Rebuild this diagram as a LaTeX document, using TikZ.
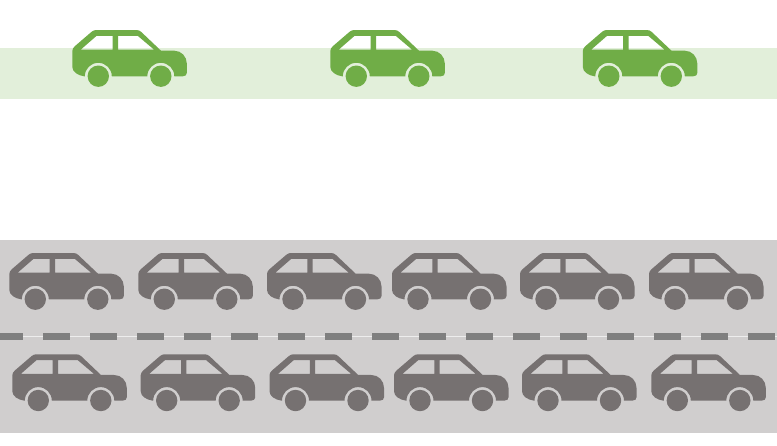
\documentclass[tikz,border=0pt]{standalone}
\definecolor{bandgreen}{HTML}{E2EFDA}
\definecolor{cargreen}{HTML}{70AD47}
\definecolor{bandgrey}{HTML}{D0CECE}
\definecolor{cargrey}{HTML}{767171}
\definecolor{dashgrey}{HTML}{7F7F7F}
\definecolor{linegrey}{HTML}{EDEDED}
\tikzset{
  car/.pic={
    \fill[even odd rule]
      (0,-21) .. controls (0,-19.5) and (1,-17.5) .. (2.4,-16.3)
      -- (19.4,-1.7) .. controls (21,-0.4) and (22.5,0) .. (24,0)
      -- (64,0) .. controls (66,0) and (67.5,-0.6) .. (69,-2)
      -- (88.5,-20.5) -- (102,-20.7)
      .. controls (109,-20.7) and (114.5,-26.5) .. (114.5,-33.5)
      -- (114.5,-43) .. controls (114.5,-45) and (113,-46.3) .. (110.5,-46.3)
      -- (102,-46.3) arc[start angle=0,end angle=180,radius=13.5]
      -- (39.5,-46.3) arc[start angle=0,end angle=180,radius=13.5]
      -- (11.7,-46.3) .. controls (6,-45.5) and (0,-42) .. (0,-37) -- cycle
      (8.6,-19.5) -- (24.3,-5.8) -- (40.4,-5.8) -- (40.4,-19.5) -- cycle
      (45.7,-5.8) -- (65.4,-5.8) -- (81.6,-19.5) -- (45.7,-19.5) -- cycle;
    \fill (26,-46.2) circle[radius=10.7];
    \fill (88.5,-46.2) circle[radius=10.7];
  },
  greencar/.style={color=cargreen},
  greycar/.style={color=cargrey},
  roaddash/.style={fill=dashgrey},
  centreline/.style={draw=linegrey,line width=1.2pt}
}
\begin{document}
\begin{tikzpicture}[x=1pt,y=1pt]
\useasboundingbox (0,0) rectangle (777,-445);
\fill[white] (0,0) rectangle (777,-445);
\fill[bandgreen] (0,-48) rectangle (777,-99);
\fill[bandgrey] (0,-240) rectangle (777,-433);
\draw[centreline] (0,-336.2) -- (777,-336.2);
\foreach \k in {0,...,16} {
  \fill[roaddash] ({-3.7+47*\k},-332.8) rectangle ++(27,-6.7);
}
\foreach \x in {72.3,330.3,582.8} { \pic[greencar] at (\x,-30) {car}; }
\foreach \x in {9.3,138.3,267,392,520,649} { \pic[greycar] at (\x,-253) {car}; }
\foreach \x in {12.3,140.7,269.5,394,522,651.3} { \pic[greycar] at (\x,-354.3) {car}; }
\end{tikzpicture}
\end{document}
